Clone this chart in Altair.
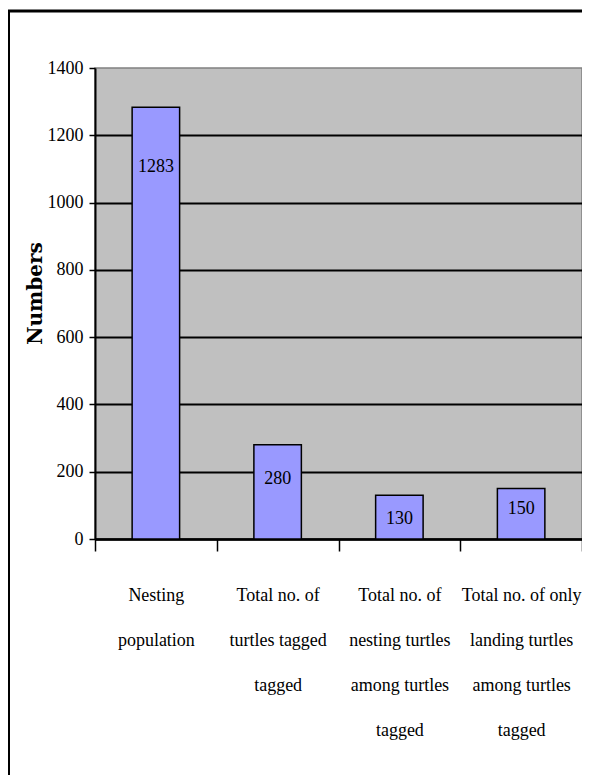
import altair as alt
import pandas as pd

# ---- data ----
categories = [
    "Nesting\npopulation",
    "Total no. of\nturtles tagged\ntagged",
    "Total no. of\nnesting turtles\namong turtles\ntagged",
    "Total no. of only\nlanding  turtles\namong turtles\ntagged",
]
values = [1283, 280, 130, 150]
y_ticks = [0, 200, 400, 600, 800, 1000, 1200, 1400]

# ---- layout (not data) ----
PLOT_W, PLOT_H = 487, 471
Y_MAX = 1400
label_drop_px = [60, 34, 24, 20]  # how far below the bar top each value label sits
px_per_unit = PLOT_H / Y_MAX

df = pd.DataFrame({
    "category": categories,
    "value": values,
    "label_pos": [v - d / px_per_unit for v, d in zip(values, label_drop_px)],
    "label": [str(v) for v in values],
})

FONT = "Liberation Serif"
FS = 18
yscale = alt.Scale(domain=[0, Y_MAX], nice=False, zero=True)
xscale = alt.Scale(paddingInner=0, paddingOuter=0)

x_axis = alt.Axis(
    title=None, labelAngle=0, tickBand="extent", tickSize=12, tickColor="black",
    tickWidth=1.5, domainColor="black", domainWidth=2.5, labelFont=FONT,
    labelFontSize=FS, labelColor="black", labelLineHeight=45, labelPadding=35,
    labelExpr="split(datum.label, '\\n')", grid=False, labelLimit=0,
)
y_axis = alt.Axis(
    values=y_ticks, format="d", title="Numbers", titleFont="DejaVu Serif",
    titleFontWeight="bold", titleFontSize=20, titleColor="black", titleY=225,
    titlePadding=2,
    labelFont=FONT, labelFontSize=FS, labelColor="black", labelPadding=6,
    tickSize=6, tickColor="black", tickWidth=1.5, domainColor="black", domainWidth=2,
    grid=True, gridColor="black", gridWidth=2,
    gridOpacity={"condition": {"test": "datum.value >= 1400", "value": 0}, "value": 1},
)

base = alt.Chart(df)

bars = base.mark_bar(
    width=alt.RelativeBandSize(0.39), color="#9999FF", stroke="black", strokeWidth=1.5
).encode(
    x=alt.X("category:N", sort=categories, scale=xscale, axis=x_axis),
    y=alt.Y("value:Q", scale=yscale, axis=y_axis),
)

labels = base.mark_text(font=FONT, fontSize=FS, color="black", baseline="middle").encode(
    x=alt.X("category:N", sort=categories, scale=xscale, axis=x_axis),
    y=alt.Y("label_pos:Q", scale=yscale, axis=y_axis),
    text="label:N",
)

frame_data = alt.Data(values=[{"k": 0}])
top_border = alt.Chart(frame_data).mark_rule(color="black", strokeWidth=3).encode(
    x=alt.value(-87), x2=alt.value(600), y=alt.value(-57)
)
left_border = alt.Chart(frame_data).mark_rule(color="black", strokeWidth=2).encode(
    x=alt.value(-86), y=alt.value(-58), y2=alt.value(720)
)

chart = alt.layer(bars, labels, top_border, left_border).properties(
    width=PLOT_W, height=PLOT_H,
    autosize=alt.AutoSizeParams(type="none"),
    padding={"left": 87, "top": 60, "right": 0, "bottom": 236},
    background="white",
).configure_view(
    fill="#C0C0C0", stroke="#808080", strokeWidth=1.5
)

chart.save("out.html", embed_options={"renderer": "svg", "actions": False})
